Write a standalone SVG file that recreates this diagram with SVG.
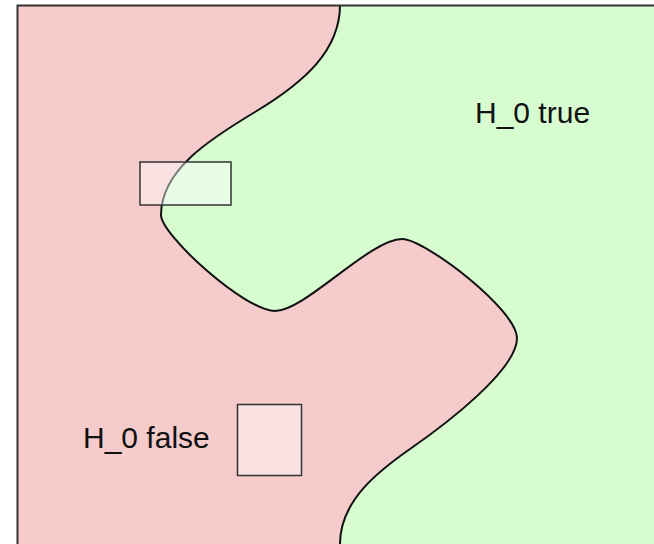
<svg xmlns="http://www.w3.org/2000/svg" width="654" height="544" viewBox="0 0 654 544">
  <style>
    .region-true { fill: #d6fcd0; }
    .region-false { fill: #f6cbcb; }
    .boundary { fill: none; stroke: #111; stroke-width: 2; }
    .frame { fill: none; stroke: #333; stroke-width: 2; }
    .box { fill: #ffffff; fill-opacity: 0.45; stroke: #333; stroke-width: 1.5; }
    .label { font-family: "Liberation Sans", Arial, sans-serif; font-size: 30px; fill: #111; }
  </style>
  <defs>
    <path id="boundary-curve" d="M340,5 C340,50 305,82 255,112 C210,139 161,170 161,215 C161,235 245,311 275,311 C305,311 370,239 402,239 C425,239 517,310 517,338 C517,370 446,424 410,449 C380,470 340,500 340,544"/>
  </defs>
  <rect x="0" y="0" width="654" height="544" fill="#ffffff"/>
  <g id="region-h0-true">
    <rect class="region-true" x="17.5" y="5.5" width="640" height="545"/>
  </g>
  <g id="region-h0-false">
    <path class="region-false" d="M17.5,5.5 L340,5.5 L340,5 C340,50 305,82 255,112 C210,139 161,170 161,215 C161,235 245,311 275,311 C305,311 370,239 402,239 C425,239 517,310 517,338 C517,370 446,424 410,449 C380,470 340,500 340,544 L340,550 L17.5,550 Z"/>
  </g>
  <g id="connectors">
    <use href="#boundary-curve" class="boundary"/>
  </g>
  <g id="frame">
    <path class="frame" d="M17.5,560 L17.5,5.5 L660,5.5"/>
  </g>
  <g id="box-boundary">
    <rect class="box" x="140" y="162" width="91" height="43"/>
  </g>
  <g id="box-interior">
    <rect class="box" x="237.5" y="404.5" width="64" height="71"/>
  </g>
  <g id="label-true">
    <text class="label" x="475" y="123">H_0 true</text>
  </g>
  <g id="label-false">
    <text class="label" x="83" y="448">H_0 false</text>
  </g>
</svg>
